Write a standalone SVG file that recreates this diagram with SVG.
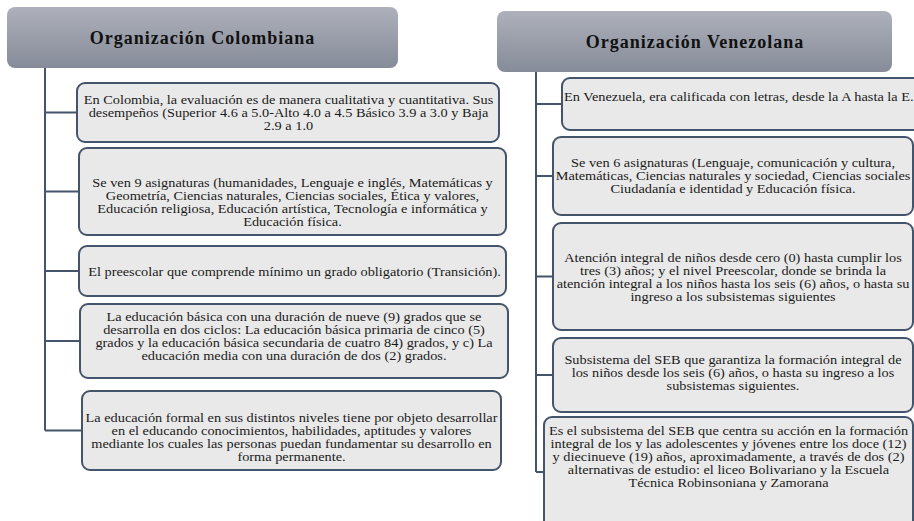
<svg xmlns="http://www.w3.org/2000/svg" width="914" height="521" viewBox="0 0 914 521">
  <defs>
    <linearGradient id="hdr" x1="0" y1="0" x2="0" y2="1">
      <stop offset="0" stop-color="#aeb1bb"/>
      <stop offset="1" stop-color="#858b98"/>
    </linearGradient>
    <style>
      .hdr { fill: url(#hdr); }
      .box { fill: #e9e9e9; stroke: #44546a; stroke-width: 2; }
      .con { fill: none; stroke: #44546a; stroke-width: 2; }
      .title { font-family: "Liberation Serif", "Times New Roman", serif; font-weight: bold; font-size: 18px; letter-spacing: 1px; fill: #111; text-anchor: middle; }
      .txt { font-family: "Liberation Serif", "Times New Roman", serif; font-size: 12.3px; fill: #1a1a1a; text-anchor: middle; }
      .start { text-anchor: start; }
    </style>
  </defs>
  <rect width="914" height="521" fill="#ffffff"/>

  <g id="connectors">
    <path class="con" d="M45 68 V430.5 M45 112.5 H77 M45 191.5 H79 M45 271 H79 M45 341 H80 M45 430.5 H82"/>
    <path class="con" d="M536 72 V472 M536 104 H562 M536 176 H553 M536 276.5 H553 M536 375 H553 M536 472 H544"/>
  </g>

  <g id="hdr-colombia">
    <rect class="hdr" x="7" y="7" width="391" height="61" rx="8"/>
    <text class="title" x="202.5" y="43.5">Organización Colombiana</text>
  </g>
  <g id="hdr-venezuela">
    <rect class="hdr" x="497" y="11" width="395" height="61" rx="8"/>
    <text class="title" x="695" y="48">Organización Venezolana</text>
  </g>

  <g id="col-1">
    <rect class="box" x="77" y="83" width="422" height="59" rx="8"/>
    <g transform="translate(288.5 0) scale(1.165 1)">
      <text class="txt" x="0" y="104">En Colombia, la evaluación es de manera cualitativa y cuantitativa. Sus</text>
      <text class="txt" x="0" y="117">desempeños (Superior 4.6 a 5.0-Alto 4.0 a 4.5 Básico 3.9 a 3.0 y Baja</text>
      <text class="txt" x="0" y="130">2.9 a 1.0</text>
    </g>
  </g>
  <g id="col-2">
    <rect class="box" x="79" y="148" width="427" height="87" rx="8"/>
    <g transform="translate(292.5 0) scale(1.165 1)">
      <text class="txt" x="0" y="187">Se ven 9 asignaturas (humanidades, Lenguaje e inglés, Matemáticas y</text>
      <text class="txt" x="0" y="200">Geometría, Ciencias naturales, Ciencias sociales, Ética y valores,</text>
      <text class="txt" x="0" y="213">Educación religiosa, Educación artística, Tecnología e informática y</text>
      <text class="txt" x="0" y="226">Educación física.</text>
    </g>
  </g>
  <g id="col-3">
    <rect class="box" x="79" y="246" width="427" height="50" rx="8"/>
    <g transform="translate(294.5 0) scale(1.165 1)">
      <text class="txt" x="0" y="276">El preescolar que comprende mínimo un grado obligatorio (Transición).</text>
    </g>
  </g>
  <g id="col-4">
    <rect class="box" x="80" y="304" width="428" height="74" rx="8"/>
    <g transform="translate(294 0) scale(1.165 1)">
      <text class="txt" x="0" y="321">La educación básica con una duración de nueve (9) grados que se</text>
      <text class="txt" x="0" y="334">desarrolla en dos ciclos: La educación básica primaria de cinco (5)</text>
      <text class="txt" x="0" y="347">grados y la educación básica secundaria de cuatro 84) grados, y c) La</text>
      <text class="txt" x="0" y="360">educación media con una duración de dos (2) grados.</text>
    </g>
  </g>
  <g id="col-5">
    <rect class="box" x="82" y="391" width="419" height="79" rx="8"/>
    <g transform="translate(291.5 0) scale(1.165 1)">
      <text class="txt" x="0" y="422">La educación formal en sus distintos niveles tiene por objeto desarrollar</text>
      <text class="txt" x="0" y="435">en el educando conocimientos, habilidades, aptitudes y valores</text>
      <text class="txt" x="0" y="448">mediante los cuales las personas puedan fundamentar su desarrollo en</text>
      <text class="txt" x="0" y="461">forma permanente.</text>
    </g>
  </g>

  <g id="ven-1">
    <rect class="box" x="562" y="78" width="370" height="52" rx="8"/>
    <g transform="translate(564 0) scale(1.165 1)">
      <text class="txt start" x="0" y="101">En Venezuela, era calificada con letras, desde la A hasta la E.</text>
    </g>
  </g>
  <g id="ven-2">
    <rect class="box" x="553" y="137" width="360" height="78" rx="8"/>
    <g transform="translate(733 0) scale(1.165 1)">
      <text class="txt" x="0" y="167">Se ven 6 asignaturas (Lenguaje, comunicación y cultura,</text>
      <text class="txt" x="0" y="180">Matemáticas, Ciencias naturales y sociedad, Ciencias sociales</text>
      <text class="txt" x="0" y="193">Ciudadanía e identidad y Educación física.</text>
    </g>
  </g>
  <g id="ven-3">
    <rect class="box" x="553" y="223" width="360" height="107" rx="8"/>
    <g transform="translate(733 0) scale(1.165 1)">
      <text class="txt" x="0" y="262">Atención integral de niños desde cero (0) hasta cumplir los</text>
      <text class="txt" x="0" y="275">tres (3) años; y el nivel Preescolar, donde se brinda la</text>
      <text class="txt" x="0" y="288">atención integral a los niños hasta los seis (6) años, o hasta su</text>
      <text class="txt" x="0" y="301">ingreso a los subsistemas siguientes</text>
    </g>
  </g>
  <g id="ven-4">
    <rect class="box" x="553" y="338" width="360" height="74" rx="8"/>
    <g transform="translate(733 0) scale(1.165 1)">
      <text class="txt" x="0" y="364">Subsistema del SEB que garantiza la formación integral de</text>
      <text class="txt" x="0" y="377">los niños desde los seis (6) años, o hasta su ingreso a los</text>
      <text class="txt" x="0" y="390">subsistemas siguientes.</text>
    </g>
  </g>
  <g id="ven-5">
    <rect class="box" x="544" y="417" width="369" height="112" rx="8"/>
    <g transform="translate(728.5 0) scale(1.165 1)">
      <text class="txt" x="0" y="435">Es el subsistema del SEB que centra su acción en la formación</text>
      <text class="txt" x="0" y="448">integral de los y las adolescentes y jóvenes entre los doce (12)</text>
      <text class="txt" x="0" y="461">y diecinueve (19) años, aproximadamente, a través de dos (2)</text>
      <text class="txt" x="0" y="474">alternativas de estudio: el liceo Bolivariano y la Escuela</text>
      <text class="txt" x="0" y="487">Técnica Robinsoniana y Zamorana</text>
    </g>
  </g>
</svg>
